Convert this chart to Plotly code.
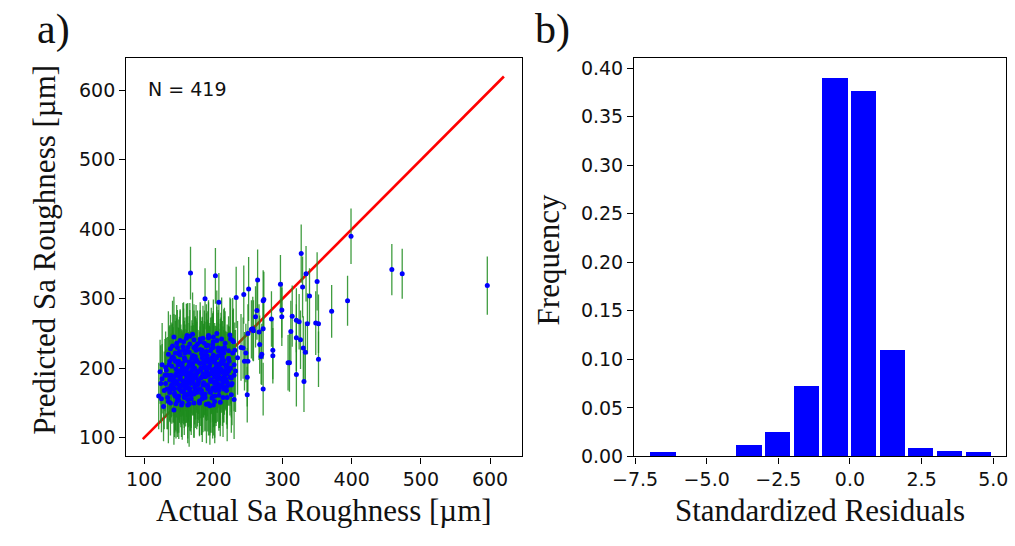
import plotly.graph_objects as go

# ---------------- Panel a data (Actual vs Predicted Sa, µm) ----------------
actual_sparse = [596, 458, 473, 399, 394, 371, 327, 334, 350, 339, 329, 297, 299, 299, 314, 320, 324, 336,
                 348, 352, 312, 320, 326, 330, 333, 310, 320, 331, 352, 284, 286, 286, 272, 270, 269, 267,
                 272, 266, 264, 251, 272, 273, 263, 261, 257, 255, 258, 250, 250, 249, 249,
                 167, 203, 188, 208, 233, 244, 308, 245, 243, 247, 231, 162, 173, 123, 125, 139, 146,
                 163, 193, 200]
pred_sparse = [319, 342, 336, 390, 297, 282, 365, 336, 325, 304, 317, 321, 284, 274, 275, 269, 267, 264,
               265, 264, 253, 244, 241, 229, 223, 208, 191, 181, 213, 271, 226, 218, 170, 220, 217, 234,
               257, 252, 327, 314, 297, 299, 283, 274, 257, 256, 254, 250, 210, 187, 162,
               337, 333, 300, 295, 302, 306, 208, 210, 229, 222, 226, 247, 230, 195, 156, 175, 149,
               147, 149, 147]
err_sparse = [42, 37, 36, 40, 36, 38, 42, 40, 42, 40, 44, 42, 40, 42, 44, 46, 40, 44,
              46, 42, 44, 48, 42, 46, 44, 42, 46, 44, 40, 40, 42, 40, 38, 44, 40, 42,
              44, 40, 44, 46, 44, 40, 42, 44, 46, 42, 44, 42, 44, 42, 40,
              38, 40, 44, 42, 44, 42, 40, 42, 44, 42, 40, 46, 44, 46, 48, 46, 50,
              48, 46, 44]

actual_c1 = [131, 134, 137, 140, 142, 144, 145, 147, 148, 150, 151, 152, 153, 155, 156, 157, 158, 160,
             161, 162, 163, 165, 166, 167, 168, 170, 171, 172, 173, 175, 176, 177, 178, 180, 181, 182,
             183, 185, 186, 187, 188, 190, 191, 192, 193, 195, 196, 197, 198, 200, 201, 202, 203, 205,
             206, 207, 208, 210, 211, 212, 213, 215, 216, 218, 220, 222, 224, 226, 228, 230]
pred_c1 = [178, 190, 165, 203, 172, 188, 210, 181, 196, 160, 224, 185, 175, 207, 192, 168, 215, 183,
           199, 176, 230, 188, 171, 205, 194, 182, 218, 163, 200, 187, 212, 176, 195, 208, 170, 186,
           221, 192, 179, 203, 188, 197, 214, 174, 190, 205, 183, 228, 196, 172, 209, 187, 200, 215,
           178, 193, 206, 184, 220, 197, 175, 211, 189, 203, 192, 214, 200, 186, 222, 205]
err_c1 = [48, 55, 42, 60, 50, 46, 58, 52, 44, 62, 50, 47, 56, 43, 61, 49, 53, 45, 57, 51, 64, 48, 54, 46,
          59, 50, 44, 63, 52, 47, 55, 49, 60, 45, 53, 58, 47, 62, 50, 44, 56, 51, 48, 65, 46, 54, 50, 59,
          43, 57, 52, 48, 61, 45, 55, 50, 46, 63, 53, 49, 58, 44, 56, 51, 60, 47, 54, 49, 62, 50]

actual_c2 = [131, 134, 137, 140, 142, 144, 145, 147, 148, 150, 151, 152, 153, 155, 156, 157, 158, 160,
             161, 162, 163, 165, 166, 167, 168, 170, 171, 172, 173, 175, 176, 177, 178, 180, 181, 182,
             183, 185, 186, 187, 188, 190, 191, 192, 193, 195, 196, 197, 198, 200, 201, 202, 203, 205,
             206, 207, 208, 210, 211, 212, 213, 215, 216, 218, 220, 222, 224, 226, 228, 230]
pred_c2 = [201, 158, 183, 170, 215, 162, 178, 236, 153, 195, 174, 240, 206, 150, 181, 226, 160, 197,
           243, 186, 162, 209, 235, 178, 156, 218, 190, 241, 172, 210, 165, 235, 182, 150, 227, 200,
           168, 243, 212, 190, 158, 232, 176, 201, 247, 166, 225, 192, 157, 238, 180, 212, 168, 250,
           197, 229, 161, 206, 185, 242, 216, 170, 230, 184, 158, 225, 248, 176, 240, 190]
err_c2 = [52, 46, 58, 50, 44, 61, 49, 55, 47, 63, 51, 45, 57, 53, 48, 60, 46, 54, 50, 65, 44, 56, 49, 62,
          52, 47, 58, 51, 45, 59, 53, 48, 61, 46, 55, 50, 64, 47, 52, 57, 49, 60, 45, 54, 51, 63, 48, 56,
          50, 44, 59, 53, 47, 62, 49, 55, 51, 58, 46, 60, 52, 48, 57, 45, 63, 50, 54, 47, 61, 52]

actual_c3 = [146, 149, 152, 154, 157, 159, 161, 164, 166, 169, 171, 174, 176, 179, 181, 184, 186, 189,
             191, 194, 196, 199, 201, 204, 206, 209, 211, 214, 143, 151, 159, 167, 175, 183, 191, 199,
             207, 215, 138, 156, 174, 192, 210, 163, 181, 199, 170, 188, 205, 220,
             121, 124, 126, 128, 130, 133, 135, 138, 141, 143]
pred_c3 = [192, 205, 184, 198, 176, 211, 190, 203, 185, 197, 179, 213, 194, 182, 207, 188, 201, 176,
           195, 209, 183, 198, 190, 172, 204, 187, 199, 180, 214, 170, 222, 166, 226, 164, 218, 171,
           225, 187, 185, 231, 168, 233, 176, 193, 238, 159, 204, 219, 196, 200,
           160, 178, 205, 145, 190, 170, 220, 150, 232, 140]
err_c3 = [50, 54, 47, 58, 52, 45, 60, 49, 55, 51, 46, 62, 48, 57, 53, 44, 59, 50, 56, 47, 61, 52, 48, 55,
          50, 45, 58, 53, 64, 49, 51, 57, 46, 60, 52, 48, 55, 50, 47, 63, 54, 49, 58, 51, 46, 60, 53, 48,
          56, 50,
          48, 55, 60, 50, 52, 58, 62, 47, 65, 50]

actual_c4 = [136, 138, 139, 141, 143, 144, 146, 147, 149, 150, 152, 153, 155, 156, 158, 159, 161, 162,
             164, 165, 167, 168, 170, 171, 173, 174, 176, 177, 138, 142, 146, 150, 154, 158, 162, 166,
             170, 174, 140, 148, 156, 164, 172, 144, 152, 160, 168, 176]
pred_c4 = [205, 172, 190, 216, 183, 164, 199, 210, 177, 221, 188, 168, 203, 194, 158, 213, 181, 200,
           171, 223, 190, 162, 207, 185, 176, 217, 196, 169, 228, 180, 160, 210, 192, 174, 225, 166,
           203, 187, 214, 158, 199, 182, 230, 171, 219, 163, 206, 192]
err_c4 = [55, 50, 60, 48, 52, 57, 46, 62, 51, 49, 58, 53, 47, 61, 54, 50, 59, 45, 56, 52, 63, 48, 55, 50,
          57, 46, 60, 53, 49, 58, 51, 47, 62, 54, 50, 56, 48, 61, 52, 57, 45, 59, 53, 50, 64, 47, 55, 51]

actual_c5 = [182, 184, 185, 187, 189, 190, 192, 194, 195, 197, 199, 200, 202, 204, 205, 207, 209, 210,
             212, 214, 215, 217, 219, 220, 222, 224, 225, 227, 184, 188, 192, 196, 200, 204, 208, 212,
             216, 220, 186, 194, 202, 210, 218, 190, 198, 206, 214, 222]
pred_c5 = [198, 215, 176, 207, 188, 224, 170, 201, 212, 183, 195, 230, 178, 206, 190, 218, 173, 199,
           211, 185, 222, 193, 168, 205, 214, 187, 200, 178, 226, 163, 210, 181, 219, 171, 203, 194,
           228, 180, 189, 212, 160, 226, 197, 175, 215, 184, 207, 196]
err_c5 = [52, 58, 47, 61, 50, 55, 45, 60, 53, 49, 57, 46, 62, 51, 54, 48, 59, 50, 56, 47, 63, 52, 49, 58,
          45, 55, 51, 60, 48, 53, 57, 46, 61, 50, 54, 58, 47, 52, 56, 49, 60, 45, 55, 51, 59, 48, 53, 50]

actual_c6 = [126, 129, 132, 135, 137, 140, 143, 145, 148, 151, 154, 157, 160, 163, 166, 169, 172, 175,
             178, 181, 184, 187, 190, 193, 196, 199, 202, 205, 208, 211, 214, 217, 220, 223, 226, 229,
             232, 235, 150, 165, 180, 195, 210, 225, 155, 170, 185, 200, 215, 230, 240, 145]
pred_c6 = [185, 168, 197, 152, 210, 176, 245, 160, 230, 188, 147, 238, 172, 155, 246, 214, 150, 232,
           178, 242, 156, 236, 148, 244, 165, 234, 152, 240, 168, 228, 158, 236, 174, 210, 162, 238,
           196, 215, 154, 149, 153, 146, 151, 242, 166, 249, 160, 245, 172, 155, 230, 222]
err_c6 = [50, 56, 47, 60, 52, 45, 58, 49, 54, 61, 46, 57, 51, 63, 48, 55, 50, 59, 44, 53, 62, 47, 56, 51,
          58, 45, 60, 49, 54, 52, 57, 46, 61, 50, 55, 48, 59, 53, 47, 62, 51, 56, 49, 58, 45, 60, 52, 54,
          50, 57, 48, 55]

identity_line = [98, 620]
n_label = "N = 419"

# ---------------- Panel b data (histogram of standardized residuals) ----------------
bin_centers = [-6.52, -5.52, -4.52, -3.52, -2.52, -1.52, -0.52, 0.48, 1.48, 2.48, 3.48, 4.48]
frequency = [0.0037, 0.0, 0.0, 0.0114, 0.0250, 0.0719, 0.3890, 0.3760, 0.1093, 0.0084, 0.0054, 0.0040]

actual_sa = actual_c1 + actual_c2 + actual_c3 + actual_c4 + actual_c5 + actual_c6 + actual_sparse
predicted_sa = pred_c1 + pred_c2 + pred_c3 + pred_c4 + pred_c5 + pred_c6 + pred_sparse
pred_err = err_c1 + err_c2 + err_c3 + err_c4 + err_c5 + err_c6 + err_sparse

W, H = 1015, 546
TICK_FONT = dict(family="DejaVu Sans", size=19, color="#111111")
TITLE_FONT = dict(family="Liberation Serif", size=31, color="#111111")

fig = go.Figure()
fig.add_trace(go.Scatter(
    x=identity_line, y=identity_line, mode="lines",
    line=dict(color="#ff0000", width=2.6), xaxis="x", yaxis="y", showlegend=False))
fig.add_trace(go.Scatter(
    x=actual_sa, y=predicted_sa, mode="markers",
    marker=dict(color="#0000ff", size=5, line=dict(width=0)),
    error_y=dict(type="data", array=pred_err, visible=True, color="rgba(30,140,30,0.85)",
                 thickness=1.3, width=0),
    xaxis="x", yaxis="y", showlegend=False))

fig.add_trace(go.Bar(
    x=bin_centers, y=frequency, width=0.88,
    marker=dict(color="#0000ff", line=dict(width=0)),
    xaxis="x2", yaxis="y2", showlegend=False))

axis_common = dict(showline=True, linecolor="black", linewidth=1.3, mirror=True,
                   ticks="outside", ticklen=6, tickwidth=1.3, tickcolor="black",
                   showgrid=False, zeroline=False, tickfont=TICK_FONT)

# pixel geometry -> paper domains
ax_l, ax_r, b_l, b_r = 106.7, 512.0, 627.0, 1008.0
top_px, bot_px = 58.7, 465.7

fig.update_layout(
    width=W, height=H, margin=dict(l=0, r=0, t=0, b=0),
    paper_bgcolor="white", plot_bgcolor="white",
    xaxis=dict(domain=[ax_l / W, ax_r / W], range=[74, 646],
               tickvals=[100, 200, 300, 400, 500, 600], anchor="y", **axis_common),
    yaxis=dict(domain=[1 - bot_px / H, 1 - top_px / H], range=[73, 646],
               tickvals=[100, 200, 300, 400, 500, 600], anchor="x", **axis_common),
    xaxis2=dict(domain=[b_l / W, b_r / W], range=[-7.53, 5.45],
                tickvals=[-7.5, -5.0, -2.5, 0.0, 2.5, 5.0], tickformat=".1f",
                anchor="y2", **axis_common),
    yaxis2=dict(domain=[1 - bot_px / H, 1 - top_px / H], range=[0, 0.41],
                tickvals=[0, 0.05, 0.10, 0.15, 0.20, 0.25, 0.30, 0.35, 0.40], tickformat=".2f",
                anchor="x2", **axis_common),
    bargap=0,
)

annotations = [
    dict(text=n_label, xref="x domain", yref="y domain", x=0.05, y=0.923,
         xanchor="left", yanchor="middle", showarrow=False, font=TICK_FONT),
    dict(text="Actual Sa Roughness [µm]", xref="paper", yref="paper",
         x=(ax_l + ax_r) / 2 / W, y=1 - 521 / H, xanchor="center", yanchor="middle",
         showarrow=False, font=TITLE_FONT),
    dict(text="Predicted Sa Roughness [µm]", xref="paper", yref="paper",
         x=23 / W, y=1 - 254 / H, xanchor="center", yanchor="middle", textangle=-90,
         showarrow=False, font=TITLE_FONT),
    dict(text="Standardized Residuals", xref="paper", yref="paper",
         x=(b_l + b_r) / 2 / W, y=1 - 521 / H, xanchor="center", yanchor="middle",
         showarrow=False, font=TITLE_FONT),
    dict(text="Frequency", xref="paper", yref="paper",
         x=539 / W, y=1 - 265 / H, xanchor="center", yanchor="middle", textangle=-90,
         showarrow=False, font=TITLE_FONT),
    dict(text="a)", xref="paper", yref="paper", x=13 / W, y=1 - 29 / H,
         xanchor="left", yanchor="middle", showarrow=False,
         font=dict(family="Liberation Serif", size=42, color="#111111")),
    dict(text="b)", xref="paper", yref="paper", x=523 / W, y=1 - 29 / H,
         xanchor="left", yanchor="middle", showarrow=False,
         font=dict(family="Liberation Serif", size=42, color="#111111")),
]
fig.update_layout(annotations=annotations)

fig.write_html("out.html")
